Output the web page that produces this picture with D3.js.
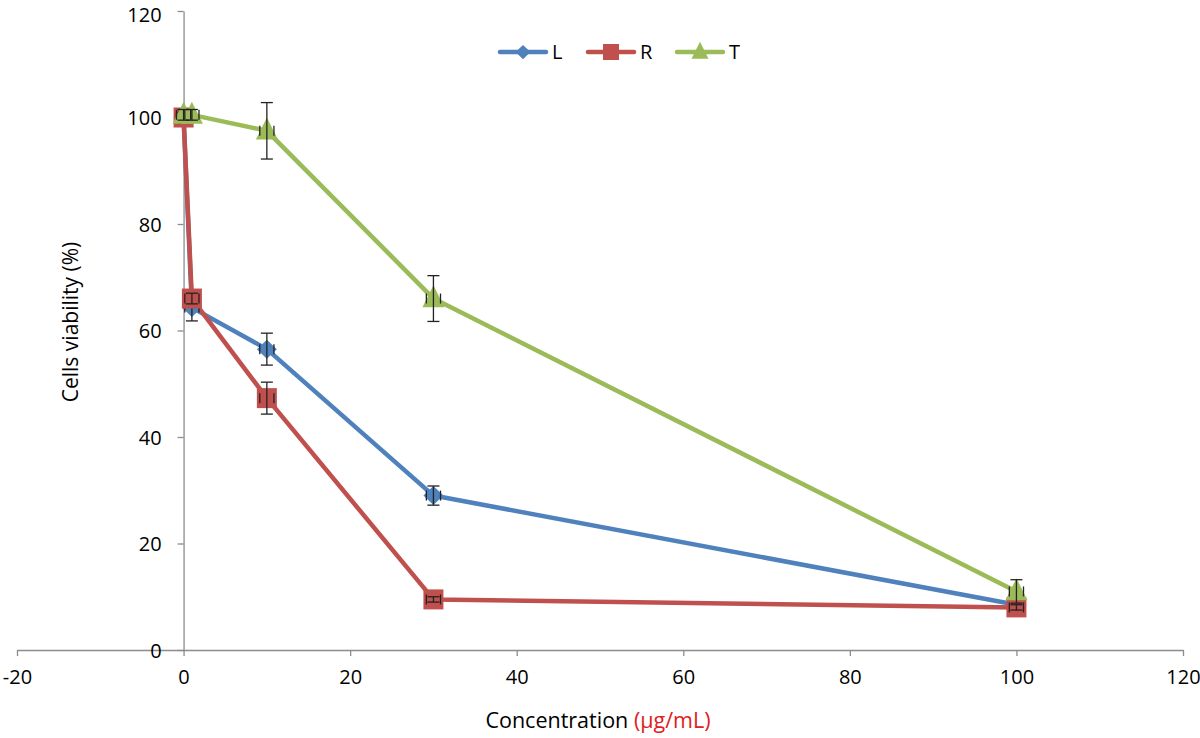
<!DOCTYPE html>
<html><head><meta charset="utf-8">
<script src="https://cdn.jsdelivr.net/npm/d3@7"></script>
<style>body{margin:0;background:#fff}svg{display:block}text{font-family:"Open Sans","Liberation Sans",sans-serif}</style>
</head><body>
<svg id="c" width="1200" height="738"></svg>
<script>
const concentrations = [0, 1, 10, 30, 100];
const seriesNames = ["L", "R", "T"];
const valuesL = [100, 64.3, 56.5, 29, 8.5];
const errL    = [0.8, 2.5, 3, 1.8, 1];
const valuesR = [100, 66, 47.3, 9.5, 8];
const errR    = [1, 1, 3, 0.5, 0.5];
const valuesT = [100.5, 100.5, 97.5, 66, 11];
const errT    = [1, 1, 5.3, 4.3, 2.2];
const xErr = [0.85, 0.85, 0.85, 0.85, 0.85];
const xTicks = [-20, 0, 20, 40, 60, 80, 100, 120];
const yTicks = [0, 20, 40, 60, 80, 100, 120];
const colors = {L: "#4F81BD", R: "#C0504D", T: "#9BBB59"};

const svg = d3.select("#c");
const x = d3.scaleLinear().domain([-20, 120]).range([17, 1183]);
const y = d3.scaleLinear().domain([0, 120]).range([650, 11]);

const axisColor = "#8c8c8c";
const fmt = d => String(d);
const gx = svg.append("g").attr("transform", `translate(0,${y(0)})`)
  .call(d3.axisBottom(x).tickValues(xTicks).tickFormat(fmt).tickSize(6).tickSizeOuter(0).tickPadding(14));
const gy = svg.append("g").attr("transform", `translate(${x(0)},0)`)
  .call(d3.axisLeft(y).tickValues(yTicks).tickFormat(fmt).tickSize(6).tickSizeOuter(0).tickPadding(16));
[gx, gy].forEach(g => {
  g.select(".domain").attr("stroke", axisColor).attr("stroke-width", 1.3);
  g.selectAll(".tick line").attr("stroke", axisColor).attr("stroke-width", 1.3);
  g.selectAll(".tick text").attr("fill", "#000").attr("font-size", 20)
    .attr("font-family", '"Open Sans","Liberation Sans",sans-serif');
});
gy.selectAll(".tick text").attr("dy", d => d === 120 ? "0.5em" : "0.36em");

const xt = svg.append("text").attr("x", 598).attr("y", 728).attr("text-anchor", "middle")
  .attr("font-size", 21.5);
xt.append("tspan").attr("fill", "#000").text("Concentration ");
xt.append("tspan").attr("fill", "#e02020").text("(µg/mL)");
svg.append("text").attr("transform", "translate(78,322) rotate(-90)").attr("text-anchor", "middle")
  .attr("font-size", 21).attr("fill", "#000").text("Cells viability (%)");

const data = [
  {name: "L", vals: valuesL, err: errL},
  {name: "R", vals: valuesR, err: errR},
  {name: "T", vals: valuesT, err: errT}
];

const line = d3.line().x(d => x(d[0])).y(d => y(d[1]));

function marker(g, name, cx, cy, big) {
  const c = colors[name];
  if (name === "L") {
    const s = big ? 10 : 7.5;
    g.append("path").attr("d", `M${cx},${cy-s*0.95}L${cx+s},${cy}L${cx},${cy+s*0.95}L${cx-s},${cy}Z`).attr("fill", c);
  } else if (name === "R") {
    const s = big ? 10 : 8;
    g.append("rect").attr("x", cx-s).attr("y", cy-s).attr("width", 2*s).attr("height", 2*s).attr("fill", c);
  } else {
    const s = big ? 11 : 8.5;
    g.append("path").attr("d", `M${cx},${cy-s*1.2}L${cx+s},${cy+s*0.8}L${cx-s},${cy+s*0.8}Z`).attr("fill", c);
  }
}

data.forEach(s => {
  const pts = concentrations.map((c, i) => [c, s.vals[i]]);
  svg.append("path").attr("d", line(pts)).attr("fill", "none")
    .attr("stroke", colors[s.name]).attr("stroke-width", 4.5).attr("stroke-linejoin", "round");
});
data.forEach(s => {
  const g = svg.append("g");
  concentrations.forEach((c, i) => marker(g, s.name, x(c), y(s.vals[i]), true));
  concentrations.forEach((c, i) => {
    const cx = x(c), cy = y(s.vals[i]);
    const top = y(s.vals[i] + s.err[i]), bot = y(s.vals[i] - s.err[i]);
    const st = "#222";
    g.append("line").attr("x1", cx).attr("x2", cx).attr("y1", top).attr("y2", bot).attr("stroke", st).attr("stroke-width", 1.3);
    [top, bot].forEach(yy => g.append("line").attr("x1", cx-6).attr("x2", cx+6).attr("y1", yy).attr("y2", yy).attr("stroke", st).attr("stroke-width", 1.3));
    const xl = x(c - xErr[i]), xr = x(c + xErr[i]);
    [xl, xr].forEach(xx => g.append("line").attr("x1", xx).attr("x2", xx).attr("y1", cy-5).attr("y2", cy+5).attr("stroke", st).attr("stroke-width", 1.3));
  });
});

const legX = [500, 588, 677];
seriesNames.forEach((n, i) => {
  const g = svg.append("g");
  const lx = legX[i], ly = 52;
  g.append("line").attr("x1", lx).attr("x2", lx + 46).attr("y1", ly).attr("y2", ly)
    .attr("stroke", colors[n]).attr("stroke-width", 4.5).attr("stroke-linecap", "round");
  marker(g, n, lx + 23, ly, false);
  g.append("text").attr("x", lx + 52).attr("y", ly).attr("dy", "0.36em").attr("font-size", 20).attr("fill", "#000").text(n);
});
</script>
</body></html>
